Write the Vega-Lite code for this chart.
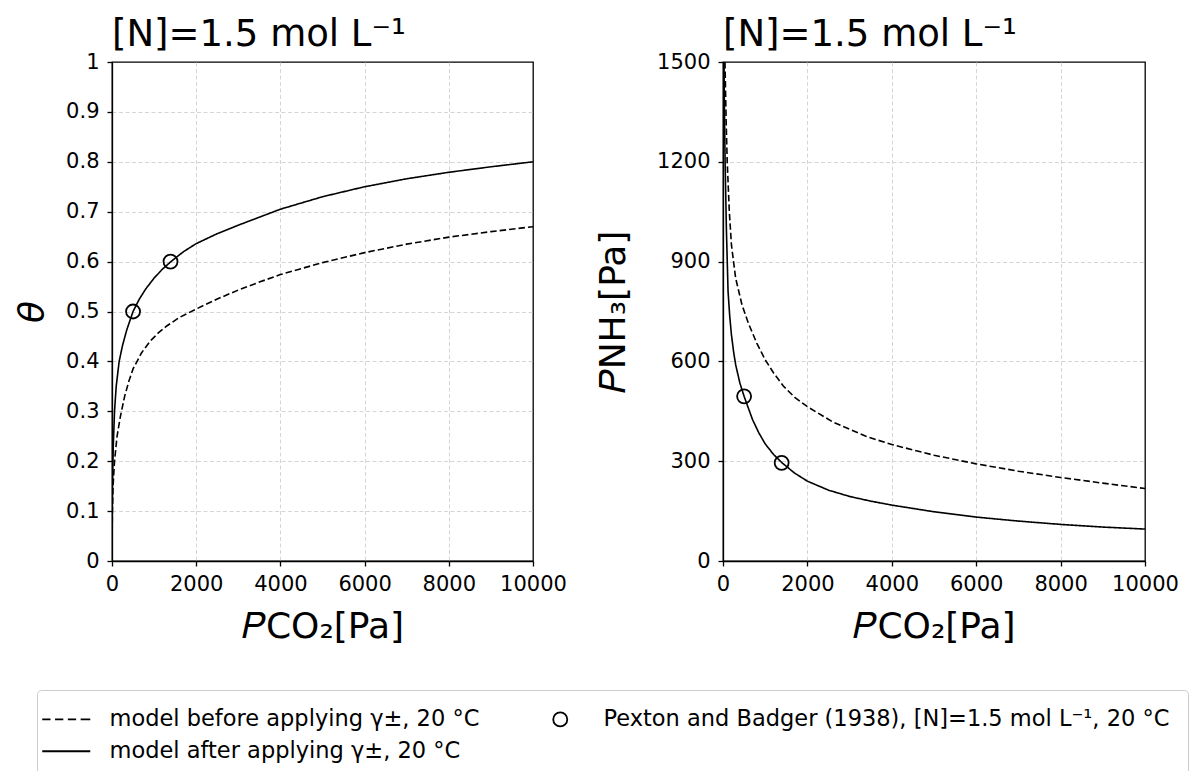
{
  "$schema": "https://vega.github.io/schema/vega-lite/v6.json",
  "background": "white",
  "padding": {"left": 13, "top": 15, "right": 5, "bottom": 5},
  "bounds": "flush",
  "spacing": 190,
  "config": {
    "font": "DejaVu Sans",
    "view": {"stroke": "black", "strokeWidth": 1.3},
    "axis": {
      "domainColor": "black", "domainWidth": 1.3,
      "tickColor": "black", "tickWidth": 1.3, "tickSize": 5,
      "labelFont": "DejaVu Sans", "labelFontSize": 21, "labelColor": "black", "labelPadding": 4,
      "labelOverlap": false, "labelFlush": false,
      "titleFont": "DejaVu Sans", "titleFontSize": 36, "titleFontWeight": "normal", "titleColor": "black",
      "gridColor": "#d0d0d0", "gridDash": [4, 2.5], "gridWidth": 0.9
    },
    "axisX": {"labelPadding": 7},
    "axisY": {"labelPadding": 8},
    "title": {"font": "DejaVu Sans", "fontSize": 37, "fontWeight": "normal", "anchor": "start", "frame": "group", "color": "black", "offset": -3}
  },
  "datasets": {
    "thetaLines": [
      {"series": "after", "p": 0, "v": 0},
      {"series": "after", "p": 5, "v": 0.1},
      {"series": "after", "p": 15, "v": 0.17},
      {"series": "after", "p": 30, "v": 0.23},
      {"series": "after", "p": 60, "v": 0.3},
      {"series": "after", "p": 100, "v": 0.35},
      {"series": "after", "p": 170, "v": 0.4},
      {"series": "after", "p": 250, "v": 0.432},
      {"series": "after", "p": 350, "v": 0.463},
      {"series": "after", "p": 500, "v": 0.5},
      {"series": "after", "p": 650, "v": 0.525},
      {"series": "after", "p": 800, "v": 0.545},
      {"series": "after", "p": 1000, "v": 0.567},
      {"series": "after", "p": 1200, "v": 0.585},
      {"series": "after", "p": 1400, "v": 0.6},
      {"series": "after", "p": 1700, "v": 0.62},
      {"series": "after", "p": 2000, "v": 0.636},
      {"series": "after", "p": 2500, "v": 0.656},
      {"series": "after", "p": 3000, "v": 0.673},
      {"series": "after", "p": 3500, "v": 0.689},
      {"series": "after", "p": 4000, "v": 0.705},
      {"series": "after", "p": 5000, "v": 0.73},
      {"series": "after", "p": 6000, "v": 0.75},
      {"series": "after", "p": 7000, "v": 0.766},
      {"series": "after", "p": 8000, "v": 0.779},
      {"series": "after", "p": 9000, "v": 0.79},
      {"series": "after", "p": 10000, "v": 0.8},
      {"series": "before", "p": 0, "v": 0},
      {"series": "before", "p": 3, "v": 0.05},
      {"series": "before", "p": 10, "v": 0.1},
      {"series": "before", "p": 25, "v": 0.15},
      {"series": "before", "p": 60, "v": 0.2},
      {"series": "before", "p": 120, "v": 0.25},
      {"series": "before", "p": 200, "v": 0.29},
      {"series": "before", "p": 300, "v": 0.33},
      {"series": "before", "p": 400, "v": 0.36},
      {"series": "before", "p": 500, "v": 0.385},
      {"series": "before", "p": 700, "v": 0.417},
      {"series": "before", "p": 900, "v": 0.44},
      {"series": "before", "p": 1100, "v": 0.457},
      {"series": "before", "p": 1300, "v": 0.471},
      {"series": "before", "p": 1600, "v": 0.488},
      {"series": "before", "p": 2000, "v": 0.505},
      {"series": "before", "p": 2500, "v": 0.525},
      {"series": "before", "p": 3000, "v": 0.543},
      {"series": "before", "p": 3500, "v": 0.559},
      {"series": "before", "p": 4000, "v": 0.574},
      {"series": "before", "p": 5000, "v": 0.598},
      {"series": "before", "p": 6000, "v": 0.618},
      {"series": "before", "p": 7000, "v": 0.635},
      {"series": "before", "p": 8000, "v": 0.649},
      {"series": "before", "p": 9000, "v": 0.66},
      {"series": "before", "p": 10000, "v": 0.67}
    ],
    "thetaPts": [
      {"series": "Pexton", "p": 500, "v": 0.5},
      {"series": "Pexton", "p": 1390, "v": 0.6}
    ],
    "nh3Lines": [
      {"series": "after", "p": 10, "v": 2000},
      {"series": "after", "p": 20, "v": 1560},
      {"series": "after", "p": 30, "v": 1400},
      {"series": "after", "p": 50, "v": 1200},
      {"series": "after", "p": 80, "v": 1000},
      {"series": "after", "p": 120, "v": 810},
      {"series": "after", "p": 160, "v": 735},
      {"series": "after", "p": 200, "v": 680},
      {"series": "after", "p": 250, "v": 630},
      {"series": "after", "p": 300, "v": 590},
      {"series": "after", "p": 400, "v": 535},
      {"series": "after", "p": 500, "v": 495},
      {"series": "after", "p": 600, "v": 460},
      {"series": "after", "p": 700, "v": 425},
      {"series": "after", "p": 850, "v": 385},
      {"series": "after", "p": 1000, "v": 352},
      {"series": "after", "p": 1200, "v": 320},
      {"series": "after", "p": 1400, "v": 295},
      {"series": "after", "p": 1700, "v": 264},
      {"series": "after", "p": 2000, "v": 240},
      {"series": "after", "p": 2500, "v": 213},
      {"series": "after", "p": 3000, "v": 194},
      {"series": "after", "p": 3500, "v": 180},
      {"series": "after", "p": 4000, "v": 168},
      {"series": "after", "p": 5000, "v": 148},
      {"series": "after", "p": 6000, "v": 132},
      {"series": "after", "p": 7000, "v": 120},
      {"series": "after", "p": 8000, "v": 110},
      {"series": "after", "p": 9000, "v": 102},
      {"series": "after", "p": 10000, "v": 96},
      {"series": "before", "p": 20, "v": 1900},
      {"series": "before", "p": 47, "v": 1500},
      {"series": "before", "p": 75, "v": 1320},
      {"series": "before", "p": 100, "v": 1200},
      {"series": "before", "p": 150, "v": 1050},
      {"series": "before", "p": 200, "v": 950},
      {"series": "before", "p": 300, "v": 850},
      {"series": "before", "p": 450, "v": 770},
      {"series": "before", "p": 600, "v": 715},
      {"series": "before", "p": 800, "v": 655},
      {"series": "before", "p": 1000, "v": 605},
      {"series": "before", "p": 1200, "v": 565},
      {"series": "before", "p": 1430, "v": 526},
      {"series": "before", "p": 1700, "v": 492},
      {"series": "before", "p": 2000, "v": 464},
      {"series": "before", "p": 2600, "v": 418},
      {"series": "before", "p": 3400, "v": 374},
      {"series": "before", "p": 4000, "v": 350},
      {"series": "before", "p": 5000, "v": 318},
      {"series": "before", "p": 6000, "v": 292},
      {"series": "before", "p": 7000, "v": 270},
      {"series": "before", "p": 8000, "v": 251},
      {"series": "before", "p": 9000, "v": 234},
      {"series": "before", "p": 10000, "v": 218}
    ],
    "nh3Pts": [
      {"series": "Pexton", "p": 500, "v": 495},
      {"series": "Pexton", "p": 1390, "v": 295}
    ]
  },
  "resolve": {"legend": {"shape": "shared"}},
  "hconcat": [
    {
      "width": 421, "height": 499,
      "title": {"text": "[N]=1.5 mol L⁻¹"},
      "layer": [
        {
          "data": {"name": "thetaLines"},
          "mark": {"type": "line", "color": "black", "strokeWidth": 1.6, "clip": true},
          "encoding": {
            "x": {"field": "p", "type": "quantitative", "scale": {"domain": [0, 10000], "nice": false},
                  "axis": {"values": [0, 2000, 4000, 6000, 8000, 10000], "format": "d", "title": "𝑃CO₂[Pa]", "titlePadding": 15,
                           "gridOpacity": {"condition": {"test": "datum.value == 0 || datum.value == 10000", "value": 0}, "value": 1}}},
            "y": {"field": "v", "type": "quantitative", "scale": {"domain": [0, 1], "nice": false},
                  "axis": {"values": [0, 0.1, 0.2, 0.3, 0.4, 0.5, 0.6, 0.7, 0.8, 0.9, 1], "format": ".1~f", "title": "θ", "titleFontStyle": "italic", "titlePadding": 14,
                           "gridOpacity": {"condition": {"test": "datum.value == 0 || datum.value == 1", "value": 0}, "value": 1}}},
            "detail": {"field": "series"},
            "strokeDash": {"field": "series", "type": "nominal", "scale": {"domain": ["before", "after"], "range": [[6.5, 3], [1, 0]]}, "legend": null}
          }
        },
        {
          "data": {"name": "thetaPts"},
          "mark": {"type": "point", "filled": false, "color": "black", "strokeWidth": 1.8, "size": 196, "opacity": 1, "clip": true},
          "encoding": {
            "x": {"field": "p", "type": "quantitative"},
            "y": {"field": "v", "type": "quantitative"},
            "shape": {"field": "series", "type": "nominal",
              "scale": {"domain": ["before", "Pexton", "after"], "range": ["M-3.43,0H-2.25M-1.6,0H-0.42M0.23,0H1.41M2.06,0H3.43", "circle", "M-3.43,0H3.43"]},
              "legend": {
                "orient": "none", "legendX": -75, "legendY": 628, "title": null, "columns": 2, "direction": "horizontal",
                "symbolSize": 196, "symbolStrokeWidth": 1.8, "symbolStrokeColor": "black", "symbolFillColor": "transparent", "symbolOpacity": 1,
                "labelFontSize": 22.5, "labelFont": "DejaVu Sans", "labelColor": "black", "labelOffset": 32, "labelLimit": 1000,
                "columnPadding": 69, "rowPadding": 9, "padding": 18,
                "strokeColor": "#cccccc", "fillColor": "white", "cornerRadius": 4,
                "labelExpr": "datum.value == 'before' ? 'model before applying γ±, 20 °C' : datum.value == 'after' ? 'model after applying γ±, 20 °C' : 'Pexton and Badger (1938), [N]=1.5 mol L⁻¹, 20 °C'"
              }
            }
          }
        }
      ]
    },
    {
      "width": 422, "height": 499,
      "title": {"text": "[N]=1.5 mol L⁻¹"},
      "layer": [
        {
          "data": {"name": "nh3Lines"},
          "mark": {"type": "line", "color": "black", "strokeWidth": 1.6, "clip": true},
          "encoding": {
            "x": {"field": "p", "type": "quantitative", "scale": {"domain": [0, 10000], "nice": false},
                  "axis": {"values": [0, 2000, 4000, 6000, 8000, 10000], "format": "d", "title": "𝑃CO₂[Pa]", "titlePadding": 15,
                           "gridOpacity": {"condition": {"test": "datum.value == 0 || datum.value == 10000", "value": 0}, "value": 1}}},
            "y": {"field": "v", "type": "quantitative", "scale": {"domain": [0, 1500], "nice": false},
                  "axis": {"values": [0, 300, 600, 900, 1200, 1500], "format": "d", "title": "𝑃NH₃[Pa]", "titlePadding": 24,
                           "gridOpacity": {"condition": {"test": "datum.value == 0 || datum.value == 1500", "value": 0}, "value": 1}}},
            "detail": {"field": "series"},
            "strokeDash": {"field": "series", "type": "nominal", "scale": {"domain": ["before", "after"], "range": [[6.5, 3], [1, 0]]}, "legend": null}
          }
        },
        {
          "data": {"name": "nh3Pts"},
          "mark": {"type": "point", "filled": false, "color": "black", "strokeWidth": 1.8, "size": 196, "opacity": 1, "clip": true},
          "encoding": {
            "x": {"field": "p", "type": "quantitative"},
            "y": {"field": "v", "type": "quantitative"},
            "shape": {"field": "series", "type": "nominal",
              "scale": {"domain": ["before", "Pexton", "after"], "range": ["M-3.43,0H-2.25M-1.6,0H-0.42M0.23,0H1.41M2.06,0H3.43", "circle", "M-3.43,0H3.43"]},
              "legend": {
                "orient": "none", "legendX": -75, "legendY": 628, "title": null, "columns": 2, "direction": "horizontal",
                "symbolSize": 196, "symbolStrokeWidth": 1.8, "symbolStrokeColor": "black", "symbolFillColor": "transparent", "symbolOpacity": 1,
                "labelFontSize": 22.5, "labelFont": "DejaVu Sans", "labelColor": "black", "labelOffset": 32, "labelLimit": 1000,
                "columnPadding": 69, "rowPadding": 9, "padding": 18,
                "strokeColor": "#cccccc", "fillColor": "white", "cornerRadius": 4,
                "labelExpr": "datum.value == 'before' ? 'model before applying γ±, 20 °C' : datum.value == 'after' ? 'model after applying γ±, 20 °C' : 'Pexton and Badger (1938), [N]=1.5 mol L⁻¹, 20 °C'"
              }
            }
          }
        }
      ]
    }
  ]
}
